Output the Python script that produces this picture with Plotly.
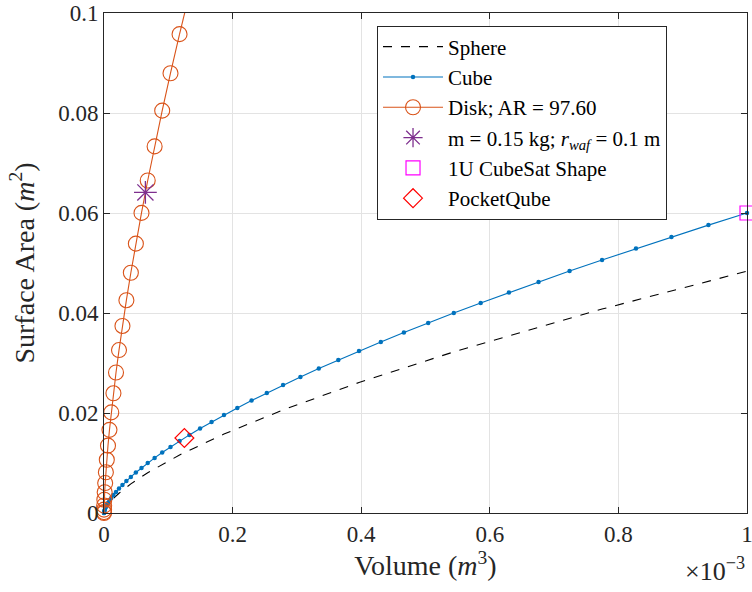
import plotly.graph_objects as go

# Volumes shared by all shape curves, in units of 1e-3 m^3
volume = [0, 8.5e-6, 6.8e-5, 2.295e-4, 5.44e-4, 1.0625e-3, 1.836e-3, 2.9155e-3, 4.352e-3, 6.1964e-3,
          8.4999e-3, 1.13133e-2, 1.46878e-2, 1.86742e-2, 2.33236e-2, 2.8687e-2, 3.48154e-2, 4.17598e-2,
          4.95712e-2, 5.83005e-2, 6.79989e-2, 7.87172e-2, 9.05065e-2, 1.034178e-1, 1.175021e-1,
          1.328103e-1, 1.493935e-1, 1.673027e-1, 1.865889e-1, 2.073033e-1, 2.294962e-1, 2.532188e-1,
          2.78523e-1, 3.05459e-1, 3.340783e-1, 3.644315e-1, 3.965696e-1, 4.305434e-1, 4.664043e-1,
          5.042036e-1, 5.43991e-1, 5.858187e-1, 6.297376e-1, 6.757977e-1, 7.240521e-1, 7.745498e-1,
          8.273424e-1, 8.824797e-1, 9.400155e-1, 1.0]

# Cube surface area (m^2)
cube_area = [0, 2.499e-5, 9.996e-5, 2.249e-4, 3.998e-4, 6.247e-4, 8.996e-4, 1.2245e-3, 1.5993e-3, 2.0242e-3,
             2.499e-3, 3.0237e-3, 3.5985e-3, 4.2233e-3, 4.898e-3, 5.6227e-3, 6.3973e-3, 7.222e-3,
             8.0966e-3, 9.0213e-3, 9.9958e-3, 1.10204e-2, 1.2095e-2, 1.32195e-2, 1.4394e-2, 1.56185e-2,
             1.6893e-2, 1.82174e-2, 1.95918e-2, 2.10162e-2, 2.24906e-2, 2.4015e-2, 2.55893e-2, 2.72137e-2,
             2.8888e-2, 3.06122e-2, 3.23865e-2, 3.42107e-2, 3.6085e-2, 3.80092e-2, 3.99833e-2, 4.20075e-2,
             4.40816e-2, 4.62057e-2, 4.83798e-2, 5.06039e-2, 5.28779e-2, 5.5202e-2, 5.7576e-2, 6.0e-2]

# Sphere (dashed reference curve)
sphere_volume = [0, 8.5e-6, 6.8e-5, 2.295e-4, 5.44e-4, 1.0625e-3, 1.836e-3, 4.352e-3, 8.4999e-3,
                 1.46878e-2, 2.33236e-2, 4.17598e-2, 6.79989e-2, 1.175021e-1, 1.865889e-1, 2.78523e-1,
                 3.965696e-1, 5.43991e-1, 7.745498e-1, 1.0]
sphere_area = [0, 2.014e-5, 8.057e-5, 1.8127e-4, 3.2226e-4, 5.0354e-4, 7.2509e-4, 1.28906e-3, 2.01415e-3,
               2.90038e-3, 3.94774e-3, 5.8209e-3, 8.05661e-3, 1.160152e-2, 1.579096e-2, 2.062493e-2,
               2.610342e-2, 3.222645e-2, 4.07866e-2, 4.835981e-2]

# Disk, AR = 97.60 (same volumes, first 25 points visible)
disk_area = [0, 1.6626e-4, 6.6504e-4, 1.49634e-3, 2.66016e-3, 4.1565e-3, 5.98536e-3, 8.14674e-3,
             1.064064e-2, 1.346706e-2, 1.6626e-2, 2.011746e-2, 2.394144e-2, 2.809794e-2, 3.258696e-2,
             3.74085e-2, 4.256256e-2, 4.804914e-2, 5.386824e-2, 6.001986e-2, 6.65040e-2, 7.332066e-2,
             8.046984e-2, 8.795154e-2, 9.576576e-2, 1.039125e-1]

# Single design points
wafer_point = (0.0643767, 0.064119)
cubesat_point = (1.0, 0.06)
pocketqube_point = (0.125, 0.015)

x_ticks = [0, 0.2, 0.4, 0.6, 0.8, 1]
x_ticktext = ["0", "0.2", "0.4", "0.6", "0.8", "1"]
y_ticks = [0, 0.02, 0.04, 0.06, 0.08, 0.1]
y_ticktext = ["0", "0.02", "0.04", "0.06", "0.08", "0.1"]

FONT = "Liberation Serif"
BLUE = "#0072BD"
ORANGE = "#D95319"
PURPLE = "#7E2F8E"

fig = go.Figure()
fig.add_trace(go.Scatter(x=sphere_volume, y=sphere_area, mode="lines", name="Sphere",
                         line=dict(color="black", width=1.1, dash="dash")))
fig.add_trace(go.Scatter(x=volume, y=cube_area, mode="lines+markers", name="Cube",
                         line=dict(color=BLUE, width=1.1),
                         marker=dict(symbol="circle", size=4.5, color=BLUE), cliponaxis=False))
n_vis = 25
fig.add_trace(go.Scatter(x=volume[:n_vis], y=disk_area[:n_vis], mode="lines+markers",
                         name="Disk; AR = 97.60",
                         line=dict(color=ORANGE, width=1.1),
                         marker=dict(symbol="circle-open", size=15, color=ORANGE, line=dict(width=1.1)),
                         cliponaxis=False))
fig.add_trace(go.Scatter(x=volume[n_vis - 1:n_vis + 1], y=disk_area[n_vis - 1:n_vis + 1], mode="lines",
                         showlegend=False, line=dict(color=ORANGE, width=1.1), hoverinfo="skip"))
fig.add_trace(go.Scatter(x=[wafer_point[0]], y=[wafer_point[1]], mode="markers",
                         name="m = 0.15 kg; <i>r</i><sub><i>waf</i></sub> = 0.1 m",
                         marker=dict(symbol="asterisk-open", size=19, color=PURPLE,
                                     line=dict(color=PURPLE, width=1.3)), cliponaxis=False))
fig.add_trace(go.Scatter(x=[cubesat_point[0]], y=[cubesat_point[1]], mode="markers",
                         name="1U CubeSat Shape",
                         marker=dict(symbol="square-open", size=14, color="#FF00FF",
                                     line=dict(color="#FF00FF", width=1.2)), cliponaxis=False))
fig.add_trace(go.Scatter(x=[pocketqube_point[0]], y=[pocketqube_point[1]], mode="markers",
                         name="PocketQube",
                         marker=dict(symbol="diamond-open", size=14.5, color="#FF0000",
                                     line=dict(color="#FF0000", width=1.2)), cliponaxis=False))

axis_common = dict(showline=True, linecolor="#262626", linewidth=1, mirror="ticks",
                   ticks="inside", ticklen=6, tickcolor="#262626", automargin=False,
                   ticklabeloverflow="allow",
                   showgrid=True, gridcolor="#E3E3E3", gridwidth=1, zeroline=False,
                   tickfont=dict(family=FONT, size=23, color="#262626"))

fig.update_layout(
    width=752, height=592,
    margin=dict(l=104, r=5, t=13, b=79),
    paper_bgcolor="white", plot_bgcolor="white",
    font=dict(family=FONT, color="#262626"),
    xaxis=dict(range=[0, 1], tickvals=x_ticks, ticktext=x_ticktext,
               title=dict(text="Volume (<i>m</i><sup>3</sup>)", font=dict(family=FONT, size=28),
                          standoff=6),
               **axis_common),
    yaxis=dict(range=[0, 0.1], tickvals=y_ticks, ticktext=y_ticktext,
               title=dict(text="Surface Area (<i>m</i><sup>2</sup>)", font=dict(family=FONT, size=28),
                          standoff=15),
               **axis_common),
    legend=dict(x=0.4246, y=0.975, xanchor="left", yanchor="top",
                bgcolor="white", bordercolor="#262626", borderwidth=1,
                font=dict(family=FONT, size=21, color="black"),
                itemwidth=60, tracegroupgap=0),
    showlegend=True,
)

fig.add_annotation(text="×10<sup>−3</sup>", xref="paper", yref="paper", x=1.0, y=-0.113,
                   xanchor="right", yanchor="middle", showarrow=False,
                   font=dict(family=FONT, size=26, color="#262626"))

fig.write_html("out.html")
